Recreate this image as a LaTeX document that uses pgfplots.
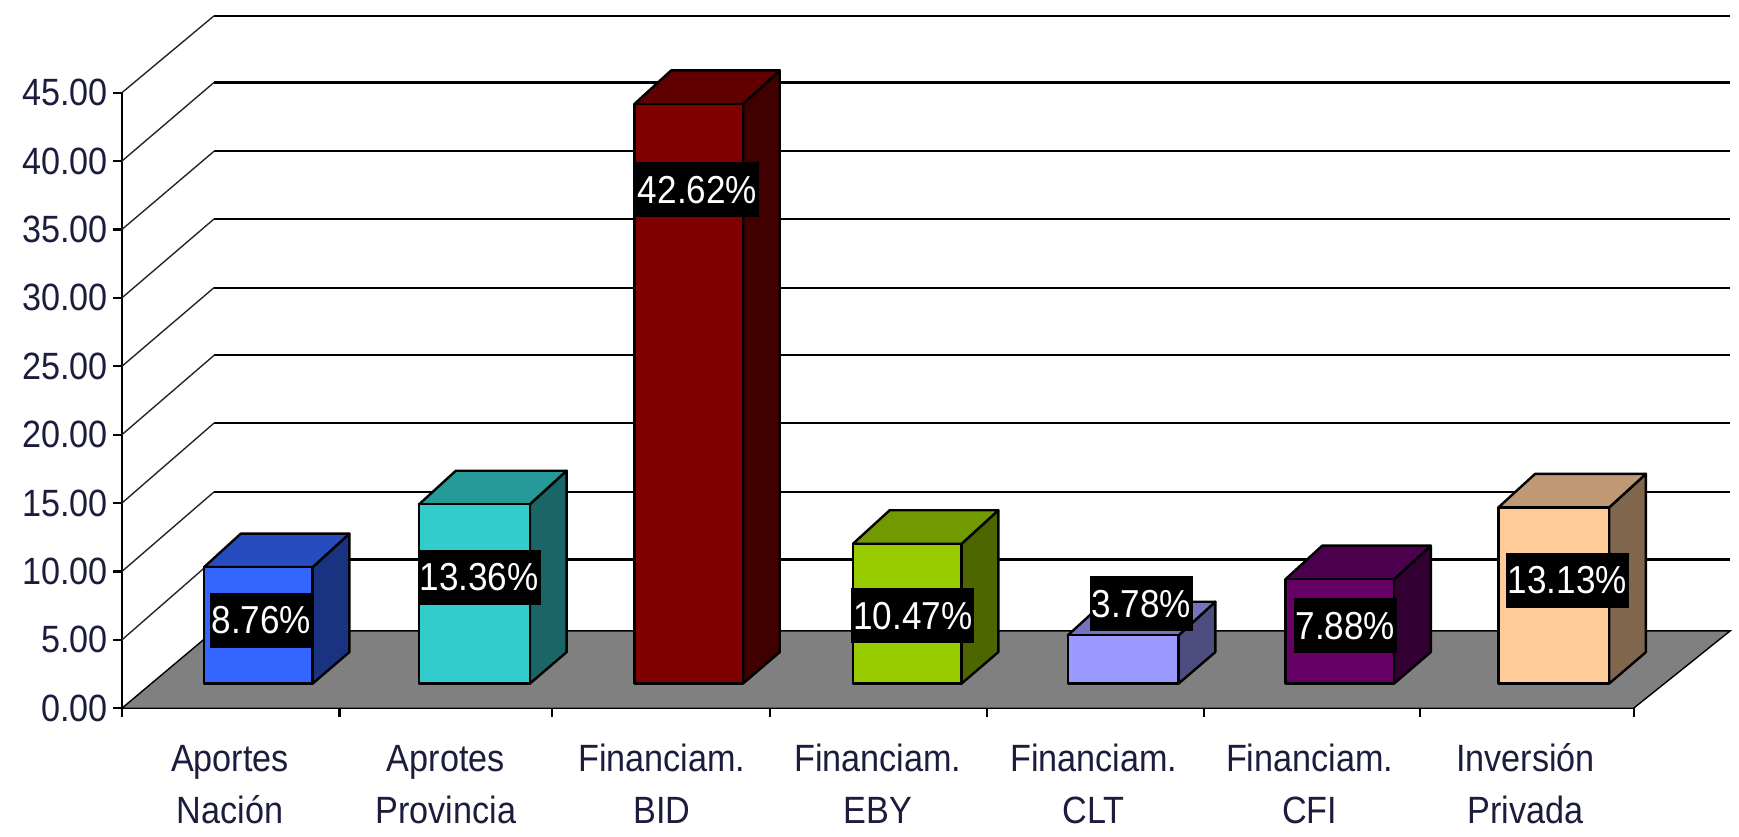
\documentclass[border=0pt]{standalone}
\usepackage{fontspec}
\setmainfont[FakeStretch=0.9]{Liberation Sans}
\usepackage{pgfplots}
\pgfplotsset{compat=1.18}

\definecolor{txt}{HTML}{1C1C3C}
\definecolor{floorgray}{HTML}{808080}
\definecolor{blueF}{HTML}{3366FF}
\definecolor{blueT}{HTML}{264CBF}
\definecolor{blueS}{HTML}{1A3380}
\definecolor{cyanF}{HTML}{33CCCC}
\definecolor{cyanT}{HTML}{269999}
\definecolor{cyanS}{HTML}{1A6666}
\definecolor{redF}{HTML}{800000}
\definecolor{redT}{HTML}{600000}
\definecolor{redS}{HTML}{400000}
\definecolor{limeF}{HTML}{99CC00}
\definecolor{limeT}{HTML}{739900}
\definecolor{limeS}{HTML}{4D6600}
\definecolor{periF}{HTML}{9999FF}
\definecolor{periT}{HTML}{7373BF}
\definecolor{periS}{HTML}{4D4D80}
\definecolor{purpF}{HTML}{660066}
\definecolor{purpT}{HTML}{4D004D}
\definecolor{purpS}{HTML}{330033}
\definecolor{peachF}{HTML}{FFCC99}
\definecolor{peachT}{HTML}{BF9973}
\definecolor{peachS}{HTML}{80664D}

% left edge, width, value, front, top, side
\newcommand{\threedbar}[6]{%
  \pgfmathsetmacro\xa{#1}%
  \pgfmathsetmacro\xb{#1+#2}%
  \pgfmathsetmacro\xc{#1+0.17}%
  \pgfmathsetmacro\xd{#1+#2+0.17}%
  \pgfmathsetmacro\ya{1.8}%
  \pgfmathsetmacro\yb{#3+1.55}%
  \pgfmathsetmacro\yc{#3+4.0}%
  \pgfmathsetmacro\ye{4.1}%
  \addplot[fill=#6, draw=black, line width=1.2pt, line join=round] coordinates {(\xb,\ya) (\xd,\ye) (\xd,\yc) (\xb,\yb)} -- cycle;
  \addplot[fill=#5, draw=black, line width=1.2pt, line join=round] coordinates {(\xa,\yb) (\xb,\yb) (\xd,\yc) (\xc,\yc)} -- cycle;
  \addplot[fill=#4, draw=black, line width=1.2pt, line join=round] coordinates {(\xa,\ya) (\xb,\ya) (\xb,\yb) (\xa,\yb)} -- cycle;
}
\newcommand{\barlabel}[3]{%
  \node[fill=black, text=white, inner xsep=1pt, inner ysep=0pt, minimum height=27.5pt, font=\fontsize{19.5}{19.5}\selectfont] at (axis cs:#1,#2) {#3};%
}
% front value, value where the line meets the back wall
\newcommand{\wallline}[2]{%
  \addplot[black!85, line width=0.7pt] coordinates {(0,#1) (0.426,#2)};
  \addplot[black, line width=1.1pt] coordinates {(0.426,#2) (7.447,#2)};
}

\begin{document}
\begin{tikzpicture}
\path[use as bounding box] (0,0) rectangle (869.5pt,418pt);
\begin{axis}[
  at={(61pt,63.9pt)}, anchor=south west,
  scale only axis,
  width=755.8pt, height=307.8pt,
  xmin=0, xmax=7, ymin=0, ymax=45,
  clip=false,
  axis lines*=left,
  axis line style={black, line width=1.1pt},
  tick style={black, line width=1.1pt},
  tick align=outside,
  major tick length=4.5pt,
  ytick={0,5,...,45},
  xtick={0,1.007,1.993,3,4.005,5.01,6.01,7},
  xticklabels={},
  extra x ticks={0.5,1.5,...,6.5},
  extra x tick style={major tick length=0pt, tick style={draw=none}},
  extra x tick labels={\vphantom{ó}Aportes\\Nación,\vphantom{ó}Aprotes\\Provincia,\vphantom{ó}Financiam.\\BID,\vphantom{ó}Financiam.\\EBY,\vphantom{ó}Financiam.\\CLT,\vphantom{ó}Financiam.\\CFI,\vphantom{ó}Inversión\\Privada},
  tick label style={font=\fontsize{19}{26}\selectfont, text=txt},
  x tick label style={align=center, yshift=-14pt},
  y tick label style={/pgf/number format/fixed, /pgf/number format/fixed zerofill, /pgf/number format/precision=2, /pgf/number format/assume math mode=true, xshift=1pt},
]
% floor
\addplot[fill=floorgray, draw=black, line width=0.7pt] coordinates {(0,0) (7,0) (7.447,5.65) (0.426,5.65)} -- cycle;
% wall grid
\wallline{5}{10.87}
\wallline{10}{15.81}
\wallline{15}{20.84}
\wallline{20}{25.79}
\wallline{25}{30.74}
\wallline{30}{35.76}
\wallline{35}{40.71}
\wallline{40}{45.74}
\wallline{45}{50.61}
% bars
\threedbar{0.38}{0.503}{8.76}{blueF}{blueT}{blueS}
\threedbar{1.376}{0.513}{13.36}{cyanF}{cyanT}{cyanS}
\threedbar{2.373}{0.503}{42.62}{redF}{redT}{redS}
\threedbar{3.385}{0.503}{10.47}{limeF}{limeT}{limeS}
\threedbar{4.38}{0.513}{3.78}{periF}{periT}{periS}
\threedbar{5.388}{0.503}{7.88}{purpF}{purpT}{purpS}
\threedbar{6.374}{0.513}{13.13}{peachF}{peachT}{peachS}
% value labels
\barlabel{0.645}{6.43}{8.76\%}
\barlabel{1.654}{9.59}{13.36\%}
\barlabel{2.665}{37.9}{42.62\%}
\barlabel{3.662}{6.75}{10.47\%}
\barlabel{4.72}{7.64}{3.78\%}
\barlabel{5.665}{6.02}{7.88\%}
\barlabel{6.693}{9.35}{13.13\%}
\end{axis}
\end{tikzpicture}
\end{document}
